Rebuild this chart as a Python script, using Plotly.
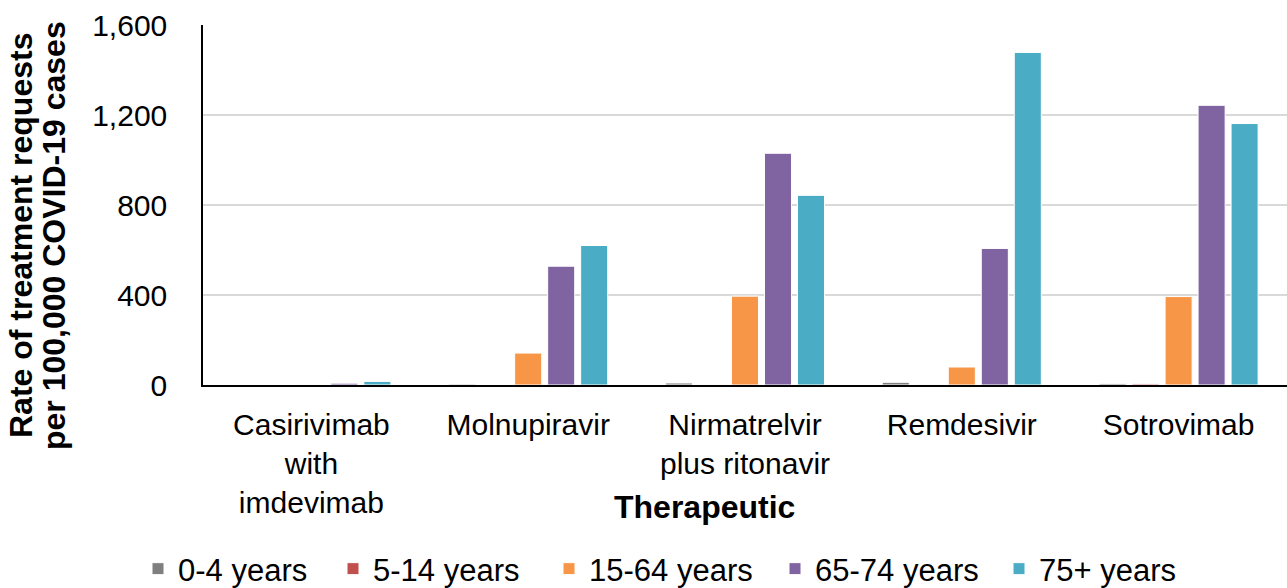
import plotly.graph_objects as go

# Therapeutics and their axis labels
therapeutics = ["Casirivimab with imdevimab", "Molnupiravir",
                "Nirmatrelvir plus ritonavir", "Remdesivir", "Sotrovimab"]
tick_labels = ["Casirivimab<br>with<br>imdevimab", "Molnupiravir",
               "Nirmatrelvir<br>plus ritonavir", "Remdesivir", "Sotrovimab"]

# Rate of treatment requests per 100,000 COVID-19 cases, by age group
age_0_4 = [0, 4, 9, 12, 6]
age_5_14 = [0, 0, 1, 1, 5]
age_15_64 = [1, 142, 395, 80, 393]
age_65_74 = [8, 528, 1030, 607, 1243]
age_75_plus = [16, 620, 843, 1478, 1162]

age_groups = ["0-4 years", "5-14 years", "15-64 years", "65-74 years", "75+ years"]
colors = ["#7f7f7f", "#c0504d", "#f79646", "#8064a2", "#4bacc6"]
values = [age_0_4, age_5_14, age_15_64, age_65_74, age_75_plus]

# left edge (px) of each legend entry along the bottom row
legend_left_px = [138, 333, 549, 775, 999]

FONT = "Liberation Sans, Arial, sans-serif"
W, H = 1287, 588

fig = go.Figure()
legend_layout = {}
for i, (name, vals, color) in enumerate(zip(age_groups, values, colors)):
    key = "legend" if i == 0 else f"legend{i + 1}"
    fig.add_trace(go.Bar(
        x=therapeutics, y=vals, name=name, legend=key,
        marker=dict(color=color, line=dict(color="white", width=1)),
    ))
    legend_layout[key] = dict(
        orientation="h", xref="container", yref="container",
        x=legend_left_px[i] / W, xanchor="left",
        y=1 - 569 / H, yanchor="middle",
        font=dict(size=31), itemwidth=30,
        bgcolor="rgba(0,0,0,0)",
    )

fig.update_layout(
    width=W, height=H,
    margin=dict(l=203, r=0, t=25, b=203),
    plot_bgcolor="white", paper_bgcolor="white",
    barmode="group", bargap=0.239, bargroupgap=0.18,
    font=dict(family=FONT, size=30, color="black"),
    showlegend=True,
    **legend_layout,
)

fig.update_xaxes(
    tickmode="array", tickvals=therapeutics, ticktext=tick_labels,
    showline=True, linecolor="black", linewidth=1.5,
    ticks="", ticklabelstandoff=12, showgrid=False,
    tickfont=dict(size=30),
)
fig.update_yaxes(
    range=[0, 1600], tickvals=[0, 400, 800, 1200, 1600],
    tickformat=",d", showline=True, linecolor="black", linewidth=1.5,
    showgrid=True, gridcolor="#d9d9d9", gridwidth=1.5,
    ticks="", ticklabelstandoff=28, zeroline=False,
    tickfont=dict(size=30),
)

# Axis titles
fig.add_annotation(
    text="<b>Therapeutic</b>", xref="paper", yref="paper",
    x=(704 - 203) / 1084, y=-(507 - 385) / 360, xanchor="center", yanchor="middle",
    showarrow=False, font=dict(size=32),
)
for line, xpx in [("<b>Rate of treatment requests</b>", 21),
                  ("<b>per 100,000 COVID-19 cases</b>", 54)]:
    fig.add_annotation(
        text=line, xref="paper", yref="paper",
        x=-(203 - xpx) / 1084, y=(385 - 236) / 360,
        xanchor="center", yanchor="middle", textangle=-90,
        showarrow=False, font=dict(size=32),
    )

fig.write_html("out.html")
